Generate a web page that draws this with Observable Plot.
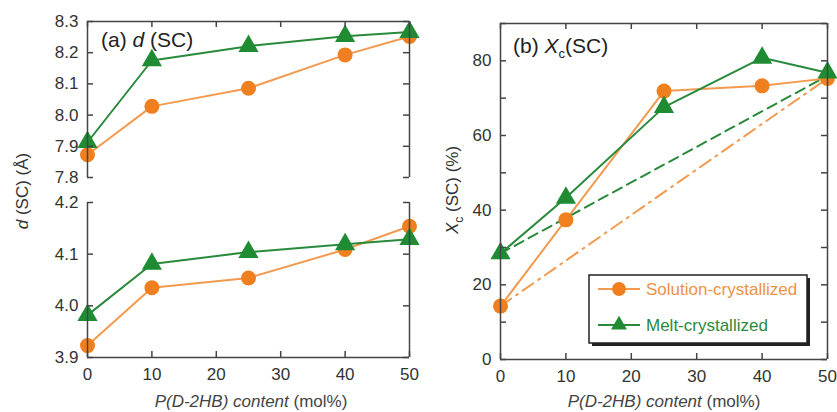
<!DOCTYPE html>
<html>
<head>
<meta charset="utf-8">
<script src="https://cdn.jsdelivr.net/npm/d3@7"></script>
<script src="https://cdn.jsdelivr.net/npm/@observablehq/plot@0.6"></script>
<style>
  html, body { margin: 0; padding: 0; background: #fff; }
  #wrap { position: relative; width: 837px; height: 412px; overflow: hidden; font-family: "Liberation Sans", Arial, sans-serif; }
  #wrap > svg, #wrap > div { position: absolute; }
</style>
</head>
<body>
<div id="wrap"></div>
<script>
// ---- data ----
const content = [0, 10, 25, 40, 50];                       // P(D-2HB) content (mol%)
const dLargeSolution = [7.873, 8.028, 8.086, 8.193, 8.252]; // d(SC) upper reflection, solution-crystallized
const dLargeMelt     = [7.913, 8.175, 8.221, 8.253, 8.266]; // melt-crystallized
const dSmallSolution = [3.923, 4.035, 4.054, 4.109, 4.154]; // d(SC) lower reflection
const dSmallMelt     = [3.982, 4.081, 4.104, 4.119, 4.129];
const xcSolution = [14.3, 37.4, 71.9, 73.3, 75.3];          // Xc(SC) %
const xcMelt     = [28.4, 43.3, 67.6, 80.8, 76.8];
const additiveX = [0, 50];
const additiveSolution = [14.3, 75.3];
const additiveMelt     = [28.4, 76.0];
const seriesNames = ["Solution-crystallized", "Melt-crystallized"];
const xTicks = [0, 10, 20, 30, 40, 50];
const dLargeTicks = [7.8, 7.9, 8.0, 8.1, 8.2, 8.3];
const dSmallTicks = [3.9, 4.0, 4.1, 4.2];
const xcTicks = [0, 10, 20, 30, 40, 50, 60, 70, 80, 90];
const xcLabels = [0, 20, 40, 60, 80];

const ORANGE = "#f0801f", ORANGE_LINE = "#f29a4e", GREEN = "#1f8c34", GREEN_LINE = "#2a8a3c";
const FRAME = "#444";
const TICK = 6;
const font = {fontFamily: "'Liberation Sans', Arial, sans-serif", fontSize: "17px", color: "#333", background: "transparent", overflow: "visible"};
const plain = {background: "transparent", overflow: "visible"};

const rows = (xs, ys) => xs.map((x, i) => ({x, y: ys[i]}));

function seriesMarks(sol, melt) {
  return [
    Plot.line(rows(content, sol), {x: "x", y: "y", stroke: ORANGE_LINE, strokeWidth: 2}),
    Plot.line(rows(content, melt), {x: "x", y: "y", stroke: GREEN_LINE, strokeWidth: 2}),
    Plot.dot(rows(content, sol), {x: "x", y: "y", r: 7.5, fill: ORANGE, stroke: null}),
    Plot.dot(rows(content, melt), {x: "x", y: "y", r: 7.5, symbol: "triangle", fill: GREEN, stroke: null})
  ];
}

// inward tick marks drawn as short tick marks via insets
function inTicks(cfg, {left, right, top, bottom}) {
  const iw = cfg.width - cfg.marginLeft - cfg.marginRight;
  const ih = cfg.height - cfg.marginTop - cfg.marginBottom;
  const s = {stroke: FRAME, strokeWidth: 1.5};
  const m = [];
  if (left)   m.push(Plot.tickY(left,   {y: d => d, insetRight: iw - TICK, ...s}));
  if (right)  m.push(Plot.tickY(right,  {y: d => d, insetLeft: iw - TICK, ...s}));
  if (top)    m.push(Plot.tickX(top,    {x: d => d, insetBottom: ih - TICK, ...s}));
  if (bottom) m.push(Plot.tickX(bottom, {x: d => d, insetTop: ih - TICK, ...s}));
  return m;
}
function labelsLeft(t, fmt) { return Plot.axisY(t, {anchor: "left", tickSize: 0, tickPadding: 9, tickFormat: fmt, label: null, fill: "#333"}); }
function labelsBottom(t)    { return Plot.axisX(t, {anchor: "bottom", tickSize: 0, tickPadding: 10, label: null, fill: "#333"}); }

const wrap = document.getElementById("wrap");
function place(svg, left, top) { svg.style.left = left + "px"; svg.style.top = top + "px"; wrap.appendChild(svg); }

// frame + ticks layer (separate SVG on top of the data layer)
function frameLayer(cfg, xDomain, yDomain, frameMarks, tickSpec) {
  return Plot.plot({
    ...cfg, style: plain,
    x: {domain: xDomain, axis: null}, y: {domain: yDomain, axis: null},
    marks: [...frameMarks, ...inTicks(cfg, tickSpec)]
  });
}

// ---- (a) upper: d(SC) ~8 Å ----
const cA1 = {width: 430, height: 190, marginLeft: 87, marginRight: 21, marginTop: 21, marginBottom: 13};
place(Plot.plot({
  ...cA1, style: font,
  x: {domain: [0, 50], axis: null},
  y: {domain: [7.8, 8.3], axis: null},
  marks: [labelsLeft(dLargeTicks, d3.format(".1f")), ...seriesMarks(dLargeSolution, dLargeMelt)]
}), 0, 0);

// ---- (a) lower: d(SC) ~4 Å ----
const cA2 = {width: 430, height: 222, marginLeft: 87, marginRight: 21, marginTop: 12, marginBottom: 55};
place(Plot.plot({
  ...cA2, style: font,
  x: {domain: [0, 50], axis: null},
  y: {domain: [3.9, 4.2], axis: null},
  marks: [labelsLeft(dSmallTicks, d3.format(".1f")), labelsBottom(xTicks), ...seriesMarks(dSmallSolution, dSmallMelt)]
}), 0, 190);

// ---- (b) Xc(SC) ----
const cB = {width: 407, height: 412, marginLeft: 70, marginRight: 10, marginTop: 23, marginBottom: 53};
place(Plot.plot({
  ...cB, style: font,
  x: {domain: [0, 50], axis: null},
  y: {domain: [0, 90], axis: null},
  marks: [
    labelsLeft(xcLabels, d => d),
    labelsBottom(xTicks),
    Plot.line(rows(additiveX, additiveMelt), {x: "x", y: "y", stroke: GREEN_LINE, strokeWidth: 2, strokeDasharray: "10,6"}),
    Plot.line(rows(additiveX, additiveSolution), {x: "x", y: "y", stroke: ORANGE_LINE, strokeWidth: 2, strokeDasharray: "13,6,2,6"}),
    ...seriesMarks(xcSolution, xcMelt)
  ]
}), 430, 0);

// ---- frame layers ----
const fs = {stroke: FRAME, strokeWidth: 1.5};
place(frameLayer(cA1, [0, 50], [7.8, 8.3],
  [Plot.ruleX([0, 50], fs), Plot.ruleY([8.3], fs)],
  {left: dLargeTicks, right: dLargeTicks, top: xTicks}), 0, 0);
place(frameLayer(cA2, [0, 50], [3.9, 4.2],
  [Plot.ruleX([0, 50], fs), Plot.ruleY([3.9], fs)],
  {left: dSmallTicks, right: dSmallTicks, bottom: xTicks}), 0, 190);
place(frameLayer(cB, [0, 50], [0, 90],
  [Plot.ruleX([0, 50], fs), Plot.ruleY([0, 90], fs)],
  {left: xcTicks, right: xcTicks, top: xTicks, bottom: xTicks}), 430, 0);

// ---- labels overlay ----
const ns = "http://www.w3.org/2000/svg";
const ov = document.createElementNS(ns, "svg");
ov.setAttribute("width", 837); ov.setAttribute("height", 412);
ov.style.left = "0px"; ov.style.top = "0px"; ov.style.pointerEvents = "none";
ov.setAttribute("font-family", "'Liberation Sans', Arial, sans-serif");
ov.innerHTML = `
  <text x="101" y="47" font-size="21" fill="#222">(a) <tspan font-style="italic">d</tspan> (SC)</text>
  <text x="513" y="53" font-size="21" fill="#222">(b) <tspan font-style="italic">X</tspan><tspan font-size="13" dy="5">c</tspan><tspan dy="-5">(SC)</tspan></text>
  <text x="251" y="407" font-size="17" fill="#444" text-anchor="middle"><tspan font-style="italic">P(D-2HB) content</tspan> (mol%)</text>
  <text x="664" y="407" font-size="17" fill="#444" text-anchor="middle"><tspan font-style="italic">P(D-2HB) content</tspan> (mol%)</text>
  <text transform="translate(28,191) rotate(-90)" font-size="17" fill="#333" text-anchor="middle"><tspan font-style="italic">d</tspan> (SC) (Å)</text>
  <text transform="translate(458,190) rotate(-90)" font-size="17" fill="#333" text-anchor="middle"><tspan font-style="italic">X</tspan><tspan font-size="12" dy="5">c</tspan><tspan dy="-5"> (SC) (%)</tspan></text>
`;
wrap.appendChild(ov);

// ---- legend ----
const lg = document.createElementNS(ns, "svg");
lg.setAttribute("width", 230); lg.setAttribute("height", 80);
lg.style.left = "586px"; lg.style.top = "272px";
lg.setAttribute("font-family", "'Liberation Sans', Arial, sans-serif");
const legendColors = [[ORANGE_LINE, ORANGE, "circle"], [GREEN_LINE, GREEN, "triangle"]];
let html = `<rect x="6" y="6" width="218" height="68" fill="#222"/>
<rect x="3" y="3" width="218" height="68" fill="#fff" stroke="#222" stroke-width="1.5"/>`;
seriesNames.forEach((name, i) => {
  const cy = 17 + i * 36;
  const [lc, fc, sym] = legendColors[i];
  html += `<line x1="12" x2="54" y1="${cy}" y2="${cy}" stroke="${lc}" stroke-width="2"/>`;
  const mk = d3.symbol(sym === "circle" ? d3.symbolCircle : d3.symbolTriangle, sym === "circle" ? 150 : 110)();
  html += `<path transform="translate(33,${cy})" d="${mk}" fill="${fc}"/>`;
  html += `<text x="60" y="${cy + 6}" font-size="17" fill="${i === 0 ? '#ee9245' : '#2a8a3c'}">${name}</text>`;
});
lg.innerHTML = html;
wrap.appendChild(lg);
</script>
</body>
</html>
